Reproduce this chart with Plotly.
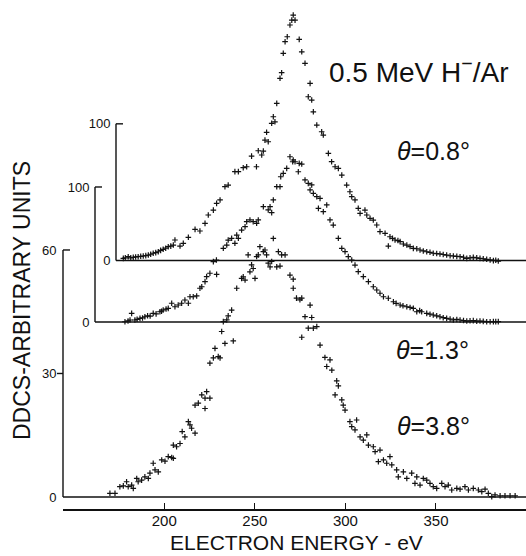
import plotly.graph_objects as go

# ---- data (electron energy in eV, DDCS in arbitrary units) ----
e_08 = [177.4, 178.5, 180.1, 181.5, 182.9, 184.2, 185.6, 187.0, 188.4, 189.8, 191.2, 192.5, 193.9, 195.3,
        196.7, 198.0, 199.4, 200.8, 202.2, 203.6, 205.0, 205.9, 208.7, 210.5, 213.3, 217.0, 219.7, 222.5,
        224.3, 227.1, 228.9, 230.8, 233.5, 235.3, 239.0, 240.9, 243.6, 245.5, 248.2, 250.9, 251.9, 253.8,
        254.7, 255.6, 257.4, 256.5, 259.3, 261.1, 260.2, 262.1, 263.9, 264.8, 265.7, 266.7, 267.9, 269.4,
        270.4, 271.2, 272.2, 274.5, 275.9, 277.7, 280.5, 279.5, 281.4, 282.3, 284.2, 286.9, 287.8, 290.6,
        292.4, 294.3, 296.1, 298.0, 300.7, 302.5, 303.5, 305.3, 307.1, 308.1, 310.8, 311.8, 313.6, 315.4,
        317.3, 319.1, 321.9, 323.7, 324.6, 326.0, 327.4, 329.0, 330.2, 332.0, 333.9, 335.7, 337.5, 339.4,
        341.2, 343.0, 344.9, 346.7, 348.5, 350.4, 352.2, 354.0, 355.9, 357.8, 359.6, 361.5, 363.3, 365.2,
        367.0, 368.8, 370.6, 372.5, 374.3, 376.1, 378.0, 379.9, 381.7, 383.0, 384.4]
v_08 = [1.6, 2.0, 2.8, 1.9, 2.3, 2.6, 2.8, 3.1, 3.3, 3.6, 4.0, 4.6, 5.3, 5.8,
        6.4, 7.4, 8.2, 9.0, 10.1, 10.5, 11.3, 15.0, 10.6, 12.6, 17.0, 22.8, 21.6, 27.2,
        33.3, 36.9, 41.8, 44.3, 54.0, 55.2, 65.0, 65.0, 67.9, 68.6, 76.4, 68.6, 80.3, 77.2,
        80.1, 88.1, 86.9, 93.8, 100.4, 101.5, 105.2, 115.0, 133.3, 137.4, 151.6, 160.1, 163.7, 172.3,
        175.9, 179.6, 175.9, 161.8, 152.7, 144.3, 129.6, 119.8, 117.4, 108.8, 99.1, 94.2, 91.8, 78.4,
        72.3, 68.6, 67.4, 62.5, 55.2, 50.3, 46.7, 44.3, 38.2, 34.5, 36.9, 33.3, 30.9, 29.6,
        26.0, 21.1, 19.9, 10.6, 17.4, 16.2, 15.0, 14.6, 13.8, 12.1, 11.3, 10.2, 8.9, 8.6,
        7.7, 7.0, 6.4, 6.0, 5.3, 5.1, 4.8, 4.4, 4.0, 3.5, 3.3, 3.0, 2.8, 2.4,
        1.6, 2.0, 2.3, 1.9, 1.6, 1.3, 0.9, 0.5, -0.1, 0.2, -0.4]

e_13 = [178.3, 180.0, 181.1, 182.0, 183.8, 185.0, 186.6, 188.0, 189.3, 190.8, 192.2, 193.9, 195.5, 197.6,
        198.5, 199.4, 201.0, 202.2, 204.1, 205.9, 207.7, 209.6, 211.4, 213.3, 214.2, 216.0, 217.9, 219.7,
        220.7, 222.5, 223.4, 225.2, 228.9, 227.1, 228.8, 232.6, 234.5, 235.3, 237.2, 239.0, 240.0, 240.9,
        242.7, 244.6, 245.5, 247.3, 249.1, 251.0, 251.9, 254.7, 257.4, 258.4, 259.3, 260.2, 262.1, 263.9,
        264.3, 265.7, 267.6, 269.4, 270.9, 271.2, 272.2, 274.0, 274.5, 275.9, 277.7, 279.5, 281.4, 280.5,
        282.3, 284.2, 286.0, 285.1, 287.8, 289.7, 291.5, 293.3, 296.1, 298.0, 299.8, 301.6, 303.5, 305.3,
        307.1, 309.9, 312.7, 315.4, 317.3, 319.1, 321.0, 323.7, 326.5, 328.0, 330.2, 331.8, 333.9, 335.7,
        337.5, 339.4, 341.0, 342.1, 344.9, 346.7, 348.5, 350.4, 352.2, 354.0, 355.9, 357.8, 359.6, 361.5,
        363.3, 365.2, 367.0, 368.8, 370.6, 372.5, 374.3, 376.1, 378.0, 379.9, 381.7, 383.0, 384.4]
v_13 = [0.2, 0.8, 1.5, 6.4, 1.5, 2.0, 2.7, 3.0, 3.9, 4.6, 4.4, 6.4, 6.0, 7.6,
        8.0, 8.9, 9.6, 10.1, 13.9, 11.3, 12.6, 13.9, 16.3, 13.9, 18.7, 18.7, 19.3, 25.0,
        26.1, 29.9, 33.6, 36.1, 35.3, 44.7, 45.9, 54.6, 57.0, 60.7, 62.0, 58.3, 64.4, 62.0,
        68.1, 70.6, 74.3, 75.6, 74.3, 73.1, 75.6, 85.4, 83.0, 85.4, 81.0, 90.4, 100.2, 100.2,
        107.6, 110.1, 113.8, 122.4, 118.7, 120.0, 118.7, 111.3, 117.5, 117.0, 105.2, 102.7, 101.5, 97.8,
        95.3, 92.8, 91.6, 84.2, 81.7, 86.7, 75.6, 71.8, 62.0, 54.6, 52.1, 48.4, 45.9, 42.2,
        37.3, 33.6, 29.9, 26.1, 23.7, 21.3, 18.7, 17.6, 15.0, 13.8, 12.6, 12.0, 11.3, 10.8,
        10.1, 7.6, 8.4, 7.6, 6.4, 5.8, 5.2, 4.6, 3.9, 3.2, 2.7, 2.2, 1.5, 1.9,
        1.5, 1.1, 0.7, 0.9, 1.0, 0.6, 0.7, 0.5, 0.2, 0.2, 0.3, 0.3, 0.3]

e_38 = [170.0, 172.8, 175.5, 177.4, 179.2, 180.1, 182.0, 182.9, 184.8, 185.6, 187.5, 189.3, 191.2, 192.1,
        193.9, 194.9, 196.7, 198.6, 200.4, 202.2, 204.1, 205.0, 205.0, 206.8, 208.7, 209.9, 211.4, 213.3,
        214.2, 215.1, 217.0, 217.0, 218.8, 220.7, 222.5, 223.4, 225.2, 222.5, 225.2, 227.1, 228.0, 229.8,
        230.8, 233.5, 238.1, 231.7, 232.6, 234.5, 235.3, 237.2, 240.0, 242.7, 244.6, 243.6, 247.3, 249.1,
        250.1, 248.2, 246.3, 251.0, 252.8, 251.9, 254.7, 255.6, 256.5, 257.4, 259.3, 260.2, 262.1, 263.0,
        264.8, 266.7, 258.4, 263.9, 269.4, 271.2, 271.2, 273.0, 274.9, 275.9, 280.5, 277.7, 281.4, 279.5,
        282.3, 284.2, 275.9, 286.0, 288.7, 291.5, 289.7, 292.5, 295.2, 296.1, 294.3, 298.0, 298.8, 299.8,
        302.5, 303.5, 305.3, 306.2, 308.1, 309.9, 311.8, 312.7, 315.4, 316.4, 319.1, 318.2, 321.0, 322.8,
        324.6, 325.6, 328.3, 329.2, 332.0, 333.9, 336.6, 338.4, 339.4, 341.2, 343.0, 344.9, 346.7, 348.5,
        350.4, 353.2, 355.0, 356.8, 358.7, 361.5, 363.3, 366.0, 367.9, 370.6, 373.4, 375.3, 377.1, 378.9,
        380.8, 382.6, 385.4, 388.1, 390.9, 393.7]
v_38 = [0.9, 0.9, 2.5, 2.7, 3.7, 2.5, 2.9, 2.1, 4.5, 3.7, 4.1, 4.9, 4.5, 5.8,
        8.2, 6.6, 6.1, 9.0, 8.7, 9.8, 9.6, 9.4, 12.6, 12.2, 13.0, 15.9, 14.6, 18.3,
        17.5, 16.7, 15.5, 22.3, 22.8, 24.8, 24.0, 25.6, 24.0, 21.5, 32.5, 33.8, 36.1, 34.1,
        33.8, 37.3, 37.9, 40.2, 42.6, 43.0, 44.0, 45.4, 50.7, 53.1, 52.7, 53.5, 54.7, 55.5,
        53.1, 56.4, 58.8, 58.4, 60.8, 58.8, 59.6, 60.0, 58.8, 56.8, 57.2, 62.8, 55.9, 59.6,
        58.8, 58.8, 55.9, 56.1, 53.9, 52.9, 50.7, 48.3, 47.9, 48.3, 46.6, 43.8, 43.6, 41.0,
        41.0, 41.4, 38.8, 36.9, 33.9, 33.3, 31.7, 30.8, 28.2, 27.0, 24.8, 23.6, 22.3, 21.1,
        18.3, 17.1, 16.3, 18.7, 14.6, 13.8, 15.1, 12.6, 12.2, 11.0, 11.4, 8.6, 9.0, 8.2,
        9.8, 7.8, 6.6, 4.9, 6.1, 4.5, 5.8, 3.3, 4.9, 2.9, 4.5, 4.1, 3.3, 2.5,
        2.1, 3.3, 2.5, 2.9, 1.7, 2.1, 1.9, 2.5, 1.7, 2.1, 1.7, 1.3, 1.9, 0.9,
        0.1, 0.5, 0.3, 0.3, 0.3, 0.3]

x_ticks = [200, 250, 300, 350]
y_ticks_38 = [0, 30, 60]
y_ticks_13 = [0, 100]
y_ticks_08 = [0, 100]

# ---- layout constants ----
W, H = 526, 556
L, R, T, B = 63, 0, 0, 47
PW, PH = W - L - R, H - T - B
pos13 = (95 - L) / PW
pos08 = (116 - L) / PW
FONT = "Liberation Sans"
ink = "#111111"

fig = go.Figure()
mk = dict(symbol="cross-thin", size=4, line=dict(width=1.2, color=ink), color=ink)
fig.add_trace(go.Scatter(x=e_38, y=v_38, mode="markers", marker=mk, yaxis="y", showlegend=False, cliponaxis=False))
fig.add_trace(go.Scatter(x=e_13, y=v_13, mode="markers", marker=mk, yaxis="y2", showlegend=False, cliponaxis=False))
fig.add_trace(go.Scatter(x=e_08, y=v_08, mode="markers", marker=mk, yaxis="y3", showlegend=False, cliponaxis=False))

lw = 1.4
shapes = []
def vline(pos, yref, top):
    shapes.append(dict(type="line", xref="paper", yref=yref, x0=pos, x1=pos, y0=0, y1=top,
                       line=dict(color=ink, width=lw)))
def hline(pos, yref, yv):
    shapes.append(dict(type="line", xref="paper", yref=yref, x0=pos, x1=1, y0=yv, y1=yv,
                       line=dict(color=ink, width=lw)))
def tick(pos, yref, yv, a, b):
    shapes.append(dict(type="line", xref="paper", yref=yref, xsizemode="pixel", xanchor=pos,
                       x0=a, x1=b, y0=yv, y1=yv, line=dict(color=ink, width=lw)))

vline(0, "y", 60); hline(0, "y", 0); tick(0, "y", 60, 0, 7); tick(0, "y", 30, -6, 0)
vline(pos13, "y2", 100); hline(pos13, "y2", 0); tick(pos13, "y2", 100, 0, 7)
vline(pos08, "y3", 100); hline(pos08, "y3", 0); tick(pos08, "y3", 100, 0, 7)

def yax(rng, vals, **kw):
    d = dict(range=rng, tickvals=vals, ticktext=[str(v) for v in vals], showgrid=False, zeroline=False,
             showline=False, ticks="outside", ticklen=3, tickcolor="rgba(0,0,0,0)",
             tickfont=dict(family=FONT, size=13, color=ink), fixedrange=True)
    d.update(kw)
    return d

def note(text, px, py, size, **kw):
    d = dict(text=text, xref="paper", yref="paper", x=(px - L) / PW, y=1 - (py - T) / PH,
             xanchor="center", yanchor="middle", showarrow=False,
             font=dict(family=FONT, size=size, color=ink))
    d.update(kw)
    return d

fig.update_layout(
    width=W, height=H, margin=dict(l=L, r=R, t=T, b=B),
    paper_bgcolor="white", plot_bgcolor="white",
    xaxis=dict(range=[144.1, 399.7], tickvals=x_ticks, showgrid=False, zeroline=False,
               showline=True, linecolor=ink, linewidth=2, ticks="inside", ticklen=6, tickwidth=1.3,
               tickcolor=ink, tickfont=dict(family=FONT, size=15, color=ink), ticklabelstandoff=-3),
    yaxis=yax([-2.915, 120.72], y_ticks_38),
    yaxis2=yax([-138.5, 238.5], y_ticks_13, overlaying="y", anchor="free", position=pos13),
    yaxis3=yax([-181.8, 190.6], y_ticks_08, overlaying="y", anchor="free", position=pos08),
    shapes=shapes,
    annotations=[
        note("0.5 MeV H<sup>−</sup>/Ar", 419, 70, 28),
        note("<i>θ</i>=0.8°", 433, 151, 25),
        note("<i>θ</i>=1.3°", 432, 350, 25),
        note("<i>θ</i>=3.8°", 433, 426, 25),
        note("DDCS-ARBITRARY UNITS", 22, 301, 23, textangle=-90),
        note("ELECTRON ENERGY - eV", 296, 542, 21),
    ],
)
fig.write_html("out.html", config={"displayModeBar": False},
               post_script="document.body.style.margin='0';document.body.style.overflow='hidden';")
